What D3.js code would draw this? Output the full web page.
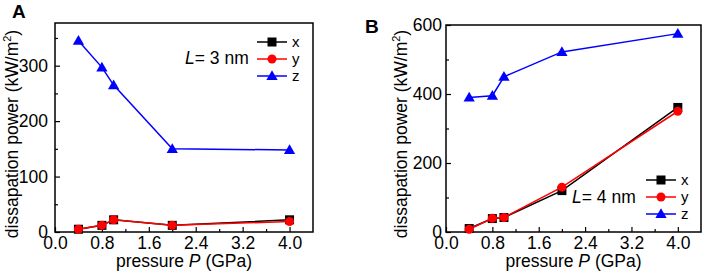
<!DOCTYPE html>
<html>
<head>
<meta charset="utf-8">
<script src="https://cdn.jsdelivr.net/npm/d3@7"></script>
<style>
  body { margin: 0; background: #fff; }
  svg { font-family: Arial, "Liberation Sans", sans-serif; }
</style>
</head>
<body>
<svg id="chart" width="706" height="274"></svg>
<script>
// pressure values (GPa)
const pressure = [0.4, 0.8, 1.0, 2.0, 4.0];

// panel A, L = 3 nm
const aX = [5, 12, 22, 12, 22];
const aY = [5, 12, 22, 12, 19];
const aZ = [345, 297, 265, 150, 148];

// panel B, L = 4 nm
const bX = [10, 39, 42, 120, 361];
const bY = [8, 40, 42, 130, 350];
const bZ = [390, 395, 450, 522, 575];

const xTicks = [0.0, 0.8, 1.6, 2.4, 3.2, 4.0];
const seriesNames = ["x", "y", "z"];
const colors = { x: "#000000", y: "#ff0000", z: "#0000ff" };

const FONT = 17.5;
const svg = d3.select("#chart");

function marker(g, name, cx, cy) {
  if (name === "x") {
    g.append("rect").attr("x", cx - 4.5).attr("y", cy - 4.5)
      .attr("width", 9).attr("height", 9).attr("fill", colors.x);
  } else if (name === "y") {
    g.append("circle").attr("cx", cx).attr("cy", cy).attr("r", 4.5)
      .attr("fill", colors.y);
  } else {
    g.append("path")
      .attr("d", d3.symbol(d3.symbolTriangle, 55)())
      .attr("transform", `translate(${cx},${cy + 0.8})`)
      .attr("fill", colors.z);
  }
}

function panel(opts) {
  const { left, right, top, bottom, yMax, yTicks, yMinor, data, letter, letterPos,
          legend, note, yLabelX, yTickGap } = opts;

  const x = d3.scaleLinear().domain([0, 4.4]).range([left, right]);
  const y = d3.scaleLinear().domain([0, yMax]).range([bottom, top]);
  const g = svg.append("g");

  // minor ticks
  const xMinor = d3.range(0.4, 4.4, 0.8);
  g.append("g").attr("transform", `translate(0,${bottom})`)
    .call(d3.axisBottom(x).tickValues(xMinor).tickSize(-3).tickFormat(""))
    .call(s => s.select(".domain").remove())
    .selectAll("line").attr("stroke-width", 1.2);
  g.append("g").attr("transform", `translate(${left},0)`)
    .call(d3.axisLeft(y).tickValues(yMinor).tickSize(-3).tickFormat(""))
    .call(s => s.select(".domain").remove())
    .selectAll("line").attr("stroke-width", 1.2);

  // major ticks
  const xa = g.append("g").attr("transform", `translate(0,${bottom})`)
    .call(d3.axisBottom(x).tickValues(xTicks).tickSize(-5).tickPadding(5)
      .tickFormat(d3.format(".1f")));
  xa.select(".domain").remove();
  xa.selectAll("line").attr("stroke-width", 1.2);
  xa.selectAll("text").attr("font-size", FONT).attr("fill", "#000")
    .attr("font-family", "Arial, 'Liberation Sans', sans-serif");

  const ya = g.append("g").attr("transform", `translate(${left},0)`)
    .call(d3.axisLeft(y).tickValues(yTicks).tickSize(-5).tickPadding(yTickGap));
  ya.select(".domain").remove();
  ya.selectAll("line").attr("stroke-width", 1.2);
  ya.selectAll("text").attr("font-size", FONT).attr("fill", "#000")
    .attr("font-family", "Arial, 'Liberation Sans', sans-serif");

  // frame
  g.append("rect").attr("x", left).attr("y", top)
    .attr("width", right - left).attr("height", bottom - top)
    .attr("fill", "none").attr("stroke", "#000").attr("stroke-width", 1.5);

  // series
  const line = d3.line().x(d => x(d[0])).y(d => y(d[1]));
  seriesNames.forEach(name => {
    const pts = pressure.map((p, i) => [p, data[name][i]]);
    g.append("path").datum(pts).attr("d", line)
      .attr("fill", "none").attr("stroke", colors[name]).attr("stroke-width", 1.5);
    pts.forEach(p => marker(g, name, x(p[0]), y(p[1])));
  });

  // legend
  seriesNames.forEach((name, i) => {
    const ly = legend.y + i * legend.dy;
    g.append("line").attr("x1", legend.x).attr("x2", legend.x + 30)
      .attr("y1", ly).attr("y2", ly)
      .attr("stroke", colors[name]).attr("stroke-width", 1.5);
    marker(g, name, legend.x + 15, ly);
    g.append("text").attr("x", legend.x + 35).attr("y", ly + 5)
      .attr("font-size", 15).text(name);
  });

  // L note
  const t = g.append("text").attr("x", note.x).attr("y", note.y).attr("font-size", FONT);
  t.append("tspan").attr("font-style", "italic").text("L");
  t.append("tspan").text(note.text);

  // axis titles
  const xt = g.append("text").attr("x", (left + right) / 2).attr("y", 267)
    .attr("text-anchor", "middle").attr("font-size", FONT);
  xt.append("tspan").text("pressure ");
  xt.append("tspan").attr("font-style", "italic").text("P");
  xt.append("tspan").text(" (GPa)");

  const yt = g.append("text")
    .attr("transform", `translate(${yLabelX},134) rotate(-90)`)
    .attr("text-anchor", "middle").attr("font-size", FONT);
  yt.append("tspan").text("dissapation power (kW/m");
  yt.append("tspan").attr("font-size", 11).attr("dy", -7).text("2");
  yt.append("tspan").attr("dy", 7).text(")");

  g.append("text").attr("x", letterPos[0]).attr("y", letterPos[1])
    .attr("font-size", 19).attr("font-weight", "bold").text(letter);
}

panel({
  left: 55, right: 313, top: 23, bottom: 232,
  yMax: 377, yTicks: [0, 100, 200, 300], yMinor: [50, 150, 250, 350],
  data: { x: aX, y: aY, z: aZ },
  letter: "A", letterPos: [12, 18],
  legend: { x: 257, y: 42, dy: 17 },
  note: { x: 185, y: 64, text: "= 3 nm" },
  yLabelX: 18, yTickGap: 7
});

panel({
  left: 446, right: 701, top: 25, bottom: 232,
  yMax: 600, yTicks: [0, 200, 400, 600], yMinor: [100, 300, 500],
  data: { x: bX, y: bY, z: bZ },
  letter: "B", letterPos: [365, 33],
  legend: { x: 646, y: 180, dy: 17 },
  note: { x: 572, y: 203, text: "= 4 nm" },
  yLabelX: 407, yTickGap: 4
});
</script>
</body>
</html>
